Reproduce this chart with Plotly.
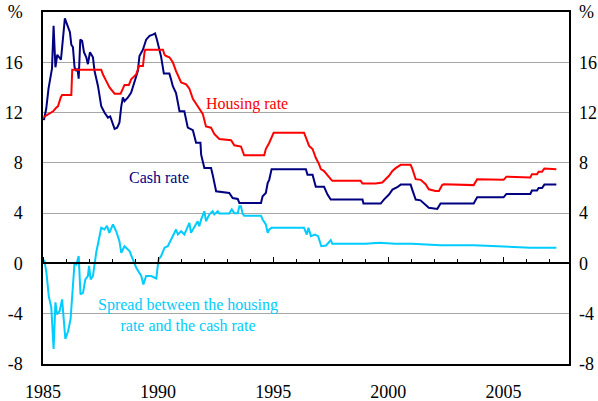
import plotly.graph_objects as go

# ---- data (decimal years, per cent) ----
cash_t = [1985.04, 1985.14, 1985.24, 1985.33, 1985.39, 1985.46, 1985.54, 1985.62, 1985.78, 1985.95,
          1986.08, 1986.17, 1986.23, 1986.30, 1986.37, 1986.45, 1986.50, 1986.55, 1986.62, 1986.70,
          1986.78, 1986.88, 1986.95, 1987.04, 1987.17, 1987.24, 1987.39, 1987.53, 1987.67, 1987.82,
          1987.92, 1988.01, 1988.11, 1988.22, 1988.32, 1988.40, 1988.47, 1988.54, 1988.69, 1988.83,
          1988.97, 1989.12, 1989.19, 1989.34, 1989.48, 1989.63, 1989.77, 1989.87, 1989.95, 1990.13,
          1990.25, 1990.49, 1990.57, 1990.64, 1990.78, 1990.86, 1990.93, 1991.14, 1991.25, 1991.29,
          1991.51, 1991.58, 1991.65, 1991.84, 1991.87, 1992.01, 1992.30, 1992.37, 1992.44, 1992.52,
          1993.09, 1993.24, 1993.46, 1993.53, 1994.47, 1994.54, 1994.68, 1994.76, 1994.83, 1994.93,
          1996.42, 1996.49, 1996.71, 1996.85, 1997.21, 1997.36, 1997.50, 1998.88, 1998.92, 1999.67,
          1999.81, 2000.03, 2000.18, 2000.39, 2000.54, 2000.97, 2001.04, 2001.19, 2001.40, 2001.62,
          2001.76, 2002.13, 2002.27, 2002.34, 2003.71, 2003.86, 2005.01, 2005.13, 2006.17, 2006.24,
          2006.46, 2006.53, 2006.68, 2006.78, 2007.30]
cash_v = [11.4, 12.3, 13.9, 15.1, 15.5, 18.9, 15.6, 16.6, 16.2, 19.5,
          18.9, 18.4, 17.4, 17.2, 15.6, 15.3, 15.5, 14.7, 17.8, 17.7,
          16.8, 16.4, 15.85, 16.8, 16.4, 15.3, 14.1, 12.5, 12.0, 11.6,
          11.7, 11.3, 10.7, 10.8, 11.2, 12.5, 13.2, 12.9, 13.2, 13.6,
          14.4, 15.3, 16.5, 17.0, 17.8, 18.1, 18.2, 18.3, 17.8, 16.45,
          15.1, 15.1, 14.6, 14.1, 13.55, 12.6, 12.1, 12.1, 11.3, 10.8,
          10.6, 10.1, 9.6, 9.6, 8.65, 7.6, 7.6, 7.06, 6.5, 5.74,
          5.6, 5.2, 5.13, 4.8, 4.8, 5.34, 5.6, 6.4, 6.67, 7.5,
          7.5, 7.06, 7.06, 6.09, 6.09, 5.48, 5.08, 5.08, 4.76, 4.76,
          5.08, 5.48, 5.87, 6.06, 6.27, 6.27, 5.87, 5.08, 5.02, 4.68,
          4.42, 4.34, 4.76, 4.76, 4.76, 5.26, 5.26, 5.53, 5.53, 5.8,
          5.8, 6.0, 6.0, 6.27, 6.27]

housing_t = [1985.04, 1985.29, 1985.44, 1985.58, 1985.65, 1985.77, 1985.83, 1986.23, 1986.27, 1987.53,
             1987.60, 1987.75, 1987.89, 1988.11, 1988.37, 1988.47, 1988.54, 1988.73, 1988.83, 1988.97,
             1989.05, 1989.17, 1989.34, 1989.41, 1989.44, 1990.21, 1990.28, 1990.35, 1990.49, 1990.64,
             1990.78, 1991.00, 1991.22, 1991.36, 1991.51, 1991.65, 1991.79, 1991.94, 1992.08, 1992.30,
             1992.44, 1992.66, 1993.17, 1993.31, 1993.60, 1993.74, 1994.61, 1994.68, 1994.83, 1995.02,
             1996.34, 1996.42, 1996.56, 1996.71, 1996.85, 1996.99, 1997.07, 1997.21, 1997.36, 1997.50,
             1997.57, 1998.80, 1998.88, 1999.45, 1999.74, 1999.89, 2000.03, 2000.18, 2000.32, 2000.54,
             2000.97, 2001.05, 2001.19, 2001.41, 2001.62, 2001.76, 2002.05, 2002.20, 2002.34, 2002.41,
             2003.71, 2003.86, 2005.01, 2005.13, 2006.17, 2006.24, 2006.46, 2006.53, 2006.68, 2006.78,
             2007.30]
housing_v = [11.65, 11.9, 12.1, 12.4, 12.5, 13.2, 13.4, 13.4, 15.4, 15.4,
             15.05, 14.5, 14.0, 13.5, 13.5, 13.9, 14.2, 14.2, 14.65, 14.9,
             15.05, 15.7, 15.7, 16.8, 17.0, 17.0, 16.6, 16.5, 16.4, 16.0,
             15.3, 14.4, 14.25, 13.9, 13.1, 12.7, 12.3, 11.9, 10.9, 10.8,
             10.3, 9.9, 9.8, 9.4, 9.3, 8.6, 8.6, 9.1, 9.6, 10.4,
             10.4, 10.0, 9.35, 9.1, 8.4, 7.9, 7.5, 7.35, 6.97, 6.7,
             6.57, 6.57, 6.36, 6.36, 6.44, 6.7, 6.97, 7.36, 7.58, 7.84,
             7.84, 7.5, 6.7, 6.65, 6.3, 5.9, 5.77, 5.77, 6.23, 6.3,
             6.23, 6.7, 6.65, 6.9, 6.84, 7.1, 7.1, 7.3, 7.3, 7.55,
             7.5]

spread_t = [1985.05, 1985.15, 1985.25, 1985.36, 1985.46, 1985.54, 1985.61, 1985.72, 1985.83, 1985.97,
            1986.09, 1986.20, 1986.37, 1986.45, 1986.55, 1986.63, 1986.74, 1986.84, 1986.95, 1987.00,
            1987.07, 1987.17, 1987.31, 1987.41, 1987.53, 1987.67, 1987.78, 1987.88, 1988.04, 1988.18,
            1988.32, 1988.40, 1988.54, 1988.76, 1988.91, 1989.05, 1989.27, 1989.36, 1989.48, 1989.70,
            1989.92, 1990.02, 1990.13, 1990.28, 1990.42, 1990.71, 1990.78, 1990.86, 1991.00, 1991.14,
            1991.36, 1991.43, 1991.58, 1991.72, 1991.79, 1991.87, 1992.01, 1992.08, 1992.23, 1992.37,
            1992.44, 1992.59, 1992.66, 1993.09, 1993.20, 1993.31, 1993.46, 1993.53, 1993.60, 1993.67,
            1993.74, 1994.47, 1994.54, 1994.68, 1994.76, 1994.83, 1994.93, 1996.34, 1996.46, 1996.53,
            1996.64, 1996.81, 1996.95, 1997.09, 1997.30, 1997.50, 1997.57, 1999.02, 1999.60, 2000.30,
            2001.02, 2002.27, 2003.71, 2004.87, 2006.17, 2007.30]
spread_v = [0.3, -0.74, -2.6, -3.5, -6.8, -3.1, -4.05, -3.8, -2.86, -6.0,
            -5.4, -4.4, 0.05, -0.08, 0.58, -2.46, -2.33, -1.27, -1.0, -0.2,
            -1.27, -1.0, 0.85, 1.9, 2.83, 2.7, 3.0, 2.43, 3.1, 2.56,
            1.77, 0.85, 1.37, 0.98, 0.32, -0.34, -1.0, -1.67, -1.0, -1.0,
            -1.2, 0.32, 0.58, 1.25, 1.37, 2.44, 2.7, 2.3, 2.56, 2.3,
            3.23, 2.44, 2.96, 3.36, 2.96, 3.5, 4.15, 3.36, 3.9, 4.15,
            3.9, 4.15, 3.97, 3.97, 4.3, 4.0, 4.0, 4.55, 4.55, 3.97,
            3.8, 3.8, 3.5, 3.1, 2.44, 2.7, 2.83, 2.83, 2.3, 2.83,
            2.17, 2.3, 2.17, 1.37, 1.43, 1.85, 1.56, 1.56, 1.64, 1.56,
            1.56, 1.45, 1.45, 1.37, 1.25, 1.25]

x_tick_vals = [1985, 1990, 1995, 2000, 2005]
x_tick_text = ["1985", "1990", "1995", "2000", "2005"]
y_tick_vals = [-8, -4, 0, 4, 8, 12, 16, 20]
y_tick_text = ["-8", "-4", "0", "4", "8", "12", "16", "%"]

X_RANGE = [1985, 2007.85]
Y_RANGE = [-8, 20]

NAVY = "#000080"
RED = "#FF0000"
CYAN = "#00CCFF"
FONT = "'Liberation Serif', 'Times New Roman', Times, serif"
TICK_FONT = "Times"

fig = go.Figure()
fig.add_trace(go.Scatter(x=spread_t, y=spread_v, mode="lines",
                         line=dict(color=CYAN, width=2), name="Spread"))
fig.add_trace(go.Scatter(x=cash_t, y=cash_v, mode="lines",
                         line=dict(color=NAVY, width=2), name="Cash rate"))
fig.add_trace(go.Scatter(x=housing_t, y=housing_v, mode="lines",
                         line=dict(color=RED, width=2), name="Housing rate"))
# invisible copies so that the zero-line axis and the right-hand axis get drawn
fig.add_trace(go.Scatter(x=spread_t, y=spread_v, mode="lines", xaxis="x2", yaxis="y",
                         line=dict(width=0), opacity=0, hoverinfo="skip", showlegend=False))
fig.add_trace(go.Scatter(x=spread_t, y=spread_v, mode="lines", xaxis="x", yaxis="y2",
                         line=dict(width=0), opacity=0, hoverinfo="skip", showlegend=False))

fig.update_layout(
    width=598, height=401,
    margin=dict(l=43, r=29, t=12, b=37),
    paper_bgcolor="white", plot_bgcolor="white",
    showlegend=False,
    font=dict(family=FONT, size=18, color="black"),
    xaxis=dict(range=X_RANGE, tickvals=x_tick_vals, ticktext=x_tick_text,
               showgrid=False, zeroline=False, showline=True, mirror=True,
               linecolor="black", linewidth=1.5, ticks="", ticklabelstandoff=11,
               automargin=False, tickfont=dict(family=TICK_FONT, size=18)),
    xaxis2=dict(range=X_RANGE, overlaying="x", anchor="free", position=8 / 28,
                side="top", showline=True, linecolor="black", linewidth=1.5,
                showgrid=False, zeroline=False, showticklabels=False, automargin=False,
                tick0=1985, dtick=5, ticks="outside", ticklen=6, tickwidth=1,
                tickcolor="black",
                minor=dict(tick0=1985, dtick=1, ticks="outside", ticklen=4,
                           tickwidth=1, tickcolor="black", showgrid=False)),
    yaxis=dict(range=Y_RANGE, tickvals=y_tick_vals, ticktext=y_tick_text,
               showgrid=True, gridcolor="#A6A6A6", gridwidth=1, zeroline=False,
               showline=True, mirror=True, linecolor="black", linewidth=1.5,
               ticks="", ticklabelstandoff=15, automargin=False,
               tickfont=dict(family=TICK_FONT, size=18)),
    yaxis2=dict(range=Y_RANGE, overlaying="y", side="right", tickvals=y_tick_vals,
                ticktext=y_tick_text, showgrid=False, zeroline=False, showline=False,
                ticks="", ticklabelstandoff=9, automargin=False,
                tickfont=dict(family=TICK_FONT, size=18)),
    annotations=[
        dict(x=1993.86, y=12.7, xref="x", yref="y", text="Housing rate", showarrow=False,
             font=dict(family=FONT, size=16, color=RED)),
        dict(x=1990.03, y=6.83, xref="x", yref="y", text="Cash rate", showarrow=False,
             font=dict(family=FONT, size=16, color=NAVY)),
        dict(x=1991.28, y=-4.09, xref="x", yref="y",
             text="Spread between the housing<br>rate and the cash rate", showarrow=False,
             font=dict(family=FONT, size=16, color=CYAN), align="center"),
    ],
)

fig.write_html("out.html", config={"displayModeBar": False})

# remove the browser's default page margin so the 598x401 figure fills the window
with open("out.html", encoding="utf-8") as f:
    html = f.read()
html = html.replace("<head>", "<head><style>html,body{margin:0;padding:0;overflow:hidden;}</style>", 1)
with open("out.html", "w", encoding="utf-8") as f:
    f.write(html)
